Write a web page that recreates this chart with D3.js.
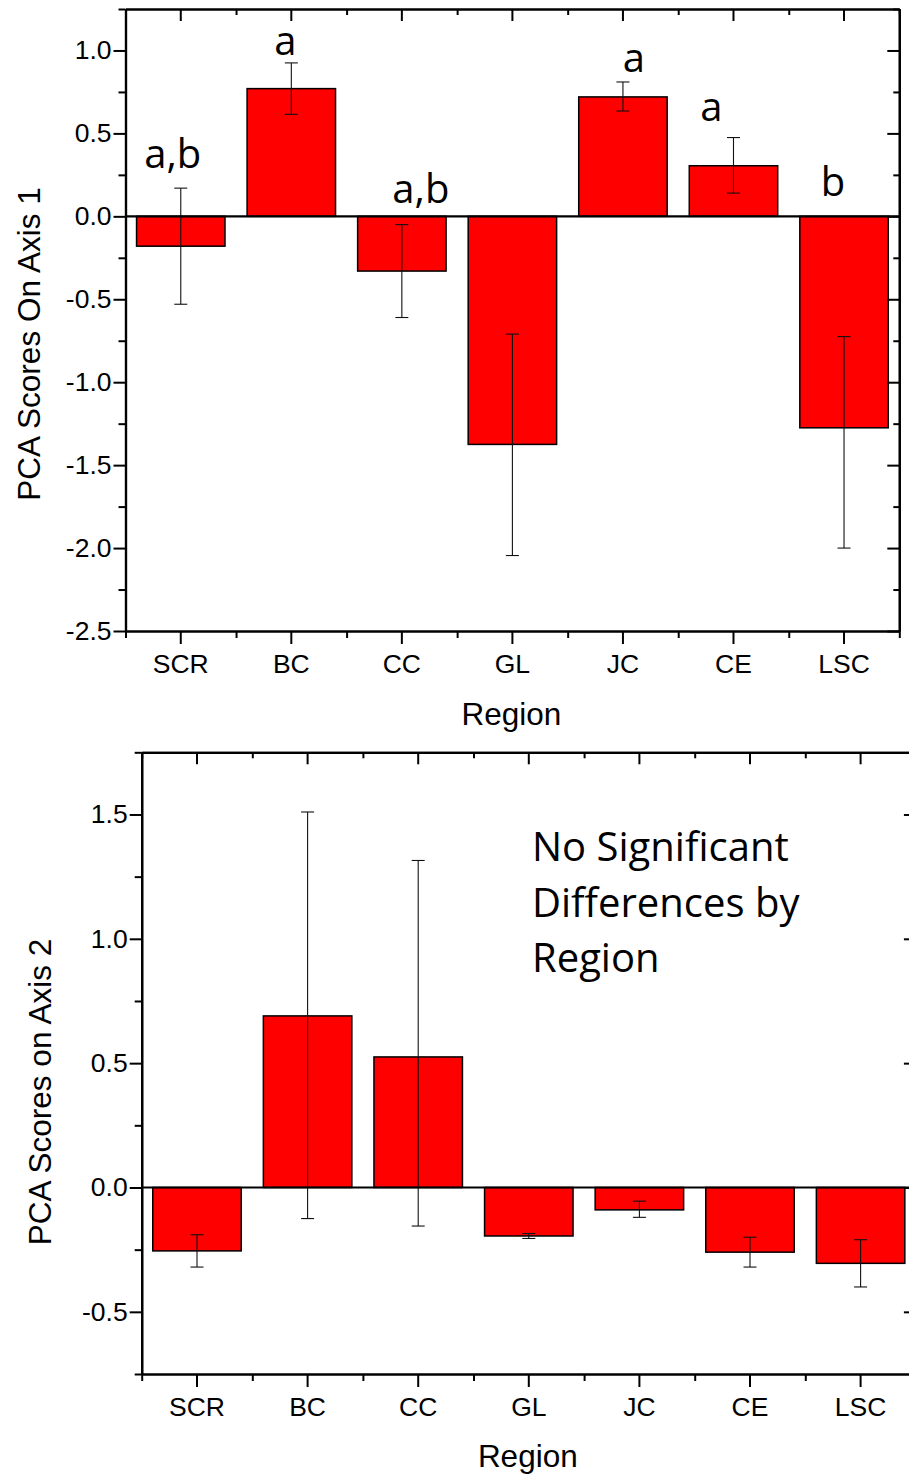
<!DOCTYPE html>
<html>
<head>
<meta charset="utf-8">
<script src="https://cdn.jsdelivr.net/npm/d3@7"></script>
<style>
  html, body { margin: 0; padding: 0; background: #fff; }
  svg { display: block; }
</style>
</head>
<body>
<svg id="fig" width="909" height="1477"></svg>
<script>
// Regions along the x axis
const regions = ["SCR", "BC", "CC", "GL", "JC", "CE", "LSC"];

// PCA axis 1: mean score per region, with whisker ends
const axis1Mean  = [-0.18, 0.77, -0.33, -1.375, 0.72, 0.305, -1.275];
const axis1Upper = [0.17, 0.925, -0.05, -0.71, 0.81, 0.475, -0.725];
const axis1Lower = [-0.53, 0.615, -0.61, -2.045, 0.635, 0.14, -2.0];
// Significance groupings shown above the axis 1 bars
const axis1Groups = ["a,b", "a", "a,b", "", "a", "a", "b"];

// PCA axis 2: mean score per region, with whisker ends
const axis2Mean  = [-0.255, 0.69, 0.525, -0.195, -0.09, -0.26, -0.305];
const axis2Upper = [-0.19, 1.51, 1.315, -0.185, -0.055, -0.20, -0.21];
const axis2Lower = [-0.32, -0.125, -0.155, -0.205, -0.12, -0.32, -0.40];
const axis2Note = ["No Significant", "Differences by", "Region"];

// Tick values
const axis1MajorTicks = [-2.5, -2.0, -1.5, -1.0, -0.5, 0.0, 0.5, 1.0];
const axis2MajorTicks = [-0.5, 0.0, 0.5, 1.0, 1.5];

const svg = d3.select("#fig");
const LABEL_FONT = "'Liberation Sans', Arial, sans-serif";
const NOTE_FONT = "'Open Sans', 'Noto Sans', sans-serif";
const TICK_SIZE = "26.5px";
const TITLE_SIZE = "31.5px";

// one decimal, plain hyphen for negatives
const fmt = v => v.toFixed(1);

function drawPanel(cfg) {
  const { left, right, top, bottom, domain, means, upper, lower, majors, yTitle } = cfg;
  const g = svg.append("g");

  const x = d3.scaleBand().domain(regions).range([left, right])
    .paddingInner(0.2).paddingOuter(0.1);
  const xEdge = d3.scaleLinear().domain([0, regions.length]).range([left, right]);
  const y = d3.scaleLinear().domain(domain).range([bottom, top]);

  const minors = d3.range(Math.ceil(domain[0] / 0.25), Math.floor(domain[1] / 0.25) + 1)
    .map(k => +(k * 0.25).toFixed(2))
    .filter(v => !majors.some(m => Math.abs(m - v) < 1e-6));
  const edges = d3.range(0, regions.length + 1);

  // bars
  g.append("g").selectAll("rect").data(means).join("rect")
    .attr("x", (d, i) => x(regions[i]))
    .attr("width", x.bandwidth())
    .attr("y", d => Math.min(y(d), y(0)))
    .attr("height", d => Math.abs(y(d) - y(0)))
    .attr("fill", "#ff0000")
    .attr("stroke", "#000")
    .attr("stroke-width", 1.5);

  // whiskers
  const cap = 6.5;
  const eb = g.append("g").attr("stroke", "#111").attr("stroke-width", 1.1).attr("fill", "none");
  regions.forEach((r, i) => {
    const cx = x(r) + x.bandwidth() / 2;
    eb.append("line").attr("x1", cx).attr("x2", cx).attr("y1", y(upper[i])).attr("y2", y(lower[i]));
    eb.append("line").attr("x1", cx - cap).attr("x2", cx + cap).attr("y1", y(upper[i])).attr("y2", y(upper[i]));
    eb.append("line").attr("x1", cx - cap).attr("x2", cx + cap).attr("y1", y(lower[i])).attr("y2", y(lower[i]));
  });

  // zero line
  g.append("line")
    .attr("x1", left).attr("x2", right)
    .attr("y1", y(0)).attr("y2", y(0))
    .attr("stroke", "#000").attr("stroke-width", 2.2);

  const styleAxis = sel => {
    sel.selectAll(".domain").attr("stroke", "#000").attr("stroke-width", 2.2);
    sel.selectAll(".tick line").attr("stroke", "#000").attr("stroke-width", 2);
    sel.selectAll(".tick text").attr("fill", "#000")
      .style("font-family", LABEL_FONT).style("font-size", TICK_SIZE);
  };

  // left axis (outward ticks)
  g.append("g").attr("transform", `translate(${left},0)`)
    .call(d3.axisLeft(y).tickValues(minors).tickSize(7).tickFormat("").tickSizeOuter(0))
    .call(styleAxis);
  g.append("g").attr("transform", `translate(${left},0)`)
    .call(d3.axisLeft(y).tickValues(majors).tickSize(12).tickPadding(2).tickFormat(fmt).tickSizeOuter(0))
    .call(styleAxis);

  // right axis (inward ticks)
  g.append("g").attr("transform", `translate(${right},0)`)
    .call(d3.axisRight(y).tickValues(minors).tickSize(-6).tickFormat("").tickSizeOuter(0))
    .call(styleAxis);
  g.append("g").attr("transform", `translate(${right},0)`)
    .call(d3.axisRight(y).tickValues(majors).tickSize(-12).tickFormat("").tickSizeOuter(0))
    .call(styleAxis);

  // bottom axis (outward ticks)
  g.append("g").attr("transform", `translate(0,${bottom})`)
    .call(d3.axisBottom(xEdge).tickValues(edges).tickSize(7).tickFormat("").tickSizeOuter(0))
    .call(styleAxis);
  g.append("g").attr("transform", `translate(0,${bottom})`)
    .call(d3.axisBottom(x).tickSize(13).tickPadding(10).tickSizeOuter(0))
    .call(styleAxis);

  // top axis (inward ticks)
  g.append("g").attr("transform", `translate(0,${top})`)
    .call(d3.axisTop(xEdge).tickValues(edges).tickSize(-6).tickFormat("").tickSizeOuter(0))
    .call(styleAxis);
  g.append("g").attr("transform", `translate(0,${top})`)
    .call(d3.axisTop(x).tickSize(-12).tickFormat("").tickSizeOuter(0))
    .call(styleAxis);

  // axis titles
  g.append("text")
    .attr("x", (left + right) / 2 - 1).attr("y", cfg.xTitleY)
    .attr("text-anchor", "middle")
    .style("font-family", LABEL_FONT).style("font-size", TITLE_SIZE)
    .text("Region");
  g.append("text")
    .attr("transform", `translate(${cfg.yTitleX},${cfg.yTitleCenter}) rotate(-90)`)
    .attr("text-anchor", "middle")
    .style("font-family", LABEL_FONT).style("font-size", TITLE_SIZE)
    .text(yTitle);

  return { g, x, y };
}

// Panel 1: axis 1 scores
const p1 = drawPanel({
  left: 125.5, right: 899.3, top: 9, bottom: 631,
  domain: [-2.5, 1.25],
  means: axis1Mean, upper: axis1Upper, lower: axis1Lower,
  majors: axis1MajorTicks,
  yTitle: "PCA Scores On Axis 1",
  xTitleY: 725, yTitleX: 40, yTitleCenter: 344
});

// grouping letters: horizontal nudge (px) from bar centre and baseline in score units
const groupDx = [-8, -6, 19, 0, 11, -22, -11];
const groupY  = [0.292, 0.973, 0.08, 0, 0.872, 0.577, 0.123];
p1.g.append("g").selectAll("text").data(axis1Groups).join("text")
  .attr("x", (d, i) => p1.x(regions[i]) + p1.x.bandwidth() / 2 + groupDx[i])
  .attr("y", (d, i) => p1.y(groupY[i]))
  .attr("text-anchor", "middle")
  .style("font-family", NOTE_FONT).style("font-size", "40px")
  .text(d => d);

// Panel 2: axis 2 scores
const p2 = drawPanel({
  left: 141.7, right: 915.9, top: 752.3, bottom: 1374,
  domain: [-0.75, 1.75],
  means: axis2Mean, upper: axis2Upper, lower: axis2Lower,
  majors: axis2MajorTicks,
  yTitle: "PCA Scores on Axis 2",
  xTitleY: 1467, yTitleX: 51, yTitleCenter: 1092
});

p2.g.append("g").selectAll("text").data(axis2Note).join("text")
  .attr("x", 532)
  .attr("y", (d, i) => 861 + i * 55.5)
  .style("font-family", NOTE_FONT).style("font-size", "40px")
  .text(d => d);
</script>
</body>
</html>
